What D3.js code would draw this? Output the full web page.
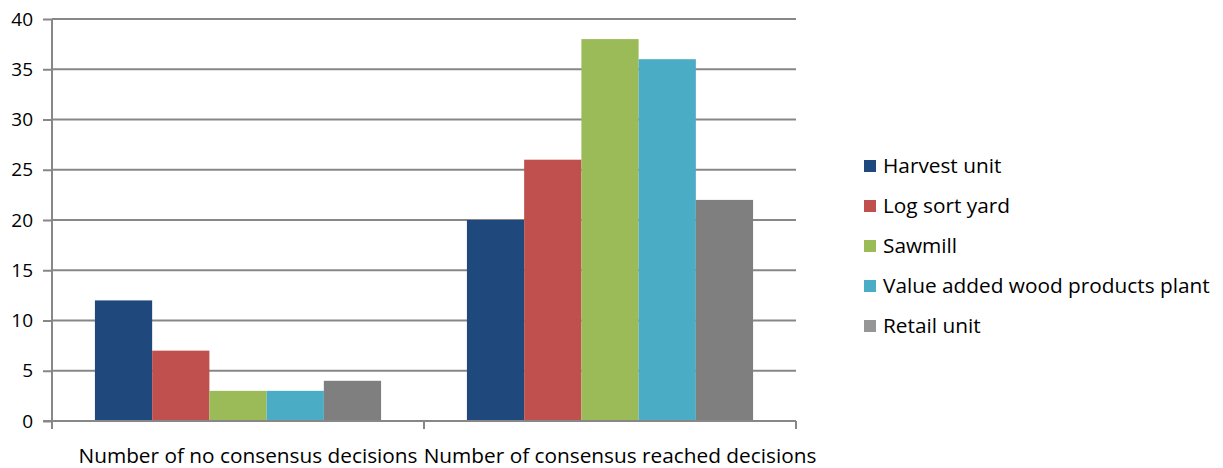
<!DOCTYPE html>
<html>
<head>
<meta charset="utf-8">
<script src="https://cdn.jsdelivr.net/npm/d3@7"></script>
<style>
  html, body { margin: 0; padding: 0; background: #fff; }
  svg text { font-family: "Open Sans", "Noto Sans", sans-serif; fill: #000; }
</style>
</head>
<body>
<svg id="chart" width="1223" height="468"></svg>
<script>
// Decision counts by supply-chain stage
const categories = ["Number of no consensus decisions", "Number of consensus reached decisions"];
const series = ["Harvest unit", "Log sort yard", "Sawmill", "Value added wood products plant", "Retail unit"];
const colors = ["#1F497D", "#C0504D", "#9BBB59", "#4BACC6", "#7F7F7F"];
const legendColors = ["#1F497D", "#C0504D", "#9BBB59", "#4BACC6", "#969696"];
const values = [
  [12, 7, 3, 3, 4],      // no consensus
  [20, 26, 38, 36, 22]   // consensus reached
];
const yTicks = [0, 5, 10, 15, 20, 25, 30, 35, 40];

const svg = d3.select("#chart");
const plotLeft = 52, plotRight = 796, plotTop = 19, plotBottom = 421;
const gridColor = "#878787";
const labelFont = 20.8;

const x0 = d3.scaleBand().domain(categories).range([plotLeft, plotRight]).padding(0);
const gapRatio = 1.5;
const barW = x0.bandwidth() / (series.length + gapRatio);
const x1 = d3.scaleBand().domain(series)
  .range([barW * gapRatio / 2, x0.bandwidth() - barW * gapRatio / 2]).padding(0);
const y = d3.scaleLinear().domain([0, 40]).range([plotBottom, plotTop]);

// horizontal gridlines
svg.append("g").selectAll("line").data(yTicks.filter(d => d > 0)).join("line")
  .attr("x1", plotLeft).attr("x2", plotRight)
  .attr("y1", d => y(d)).attr("y2", d => y(d))
  .attr("stroke", gridColor).attr("stroke-width", 2);

// bars
const groups = svg.append("g").selectAll("g").data(categories).join("g")
  .attr("transform", d => `translate(${x0(d)},0)`);
groups.selectAll("rect").data((d, i) => values[i].map((v, j) => ({ s: series[j], v, c: colors[j] })))
  .join("rect")
  .attr("x", d => x1(d.s))
  .attr("width", x1.bandwidth())
  .attr("y", d => y(d.v))
  .attr("height", d => y(0) - y(d.v))
  .attr("fill", d => d.c);

// y axis
const yAxis = svg.append("g").attr("transform", `translate(${plotLeft},0)`)
  .call(d3.axisLeft(y).tickValues(yTicks).tickSize(9).tickPadding(10));
yAxis.select(".domain").attr("stroke", gridColor).attr("stroke-width", 2)
  .attr("d", `M0,${plotTop}V${plotBottom}`);
yAxis.selectAll(".tick line").attr("stroke", gridColor).attr("stroke-width", 2);
yAxis.selectAll(".tick text").attr("font-size", 19).attr("font-family", "'Open Sans', sans-serif");

// x axis
const xAxis = svg.append("g").attr("transform", `translate(0,${plotBottom})`);
xAxis.append("line").attr("x1", plotLeft - 9).attr("x2", plotRight)
  .attr("stroke", gridColor).attr("stroke-width", 2);
const bounds = [plotLeft, x0(categories[1]), plotRight];
xAxis.selectAll("line.tk").data(bounds).join("line").attr("class", "tk")
  .attr("x1", d => d).attr("x2", d => d).attr("y1", 0).attr("y2", 8)
  .attr("stroke", gridColor).attr("stroke-width", 2);
xAxis.selectAll("text").data(categories).join("text")
  .attr("x", d => x0(d) + x0.bandwidth() / 2 + 10)
  .attr("y", 42)
  .attr("text-anchor", "middle")
  .attr("font-size", labelFont)
  .text(d => d);

// legend
const legend = svg.append("g").attr("transform", "translate(864,166)");
const item = legend.selectAll("g").data(series).join("g")
  .attr("transform", (d, i) => `translate(0,${i * 40})`);
item.append("rect").attr("x", 0).attr("y", -6).attr("width", 12).attr("height", 12)
  .attr("fill", (d, i) => legendColors[i]);
item.append("text").attr("x", 19).attr("y", 0).attr("dy", "0.35em")
  .attr("font-size", labelFont).text(d => d);
</script>
</body>
</html>
